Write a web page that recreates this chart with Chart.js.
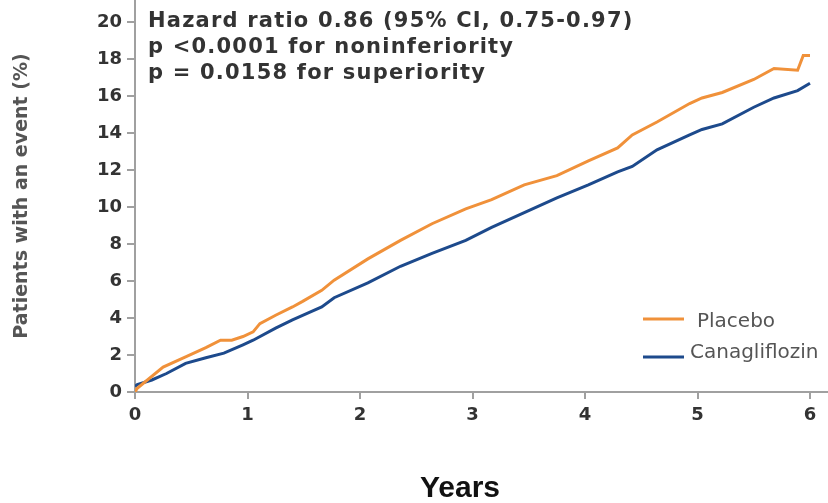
<!DOCTYPE html>
<html lang="en">
<head>
<meta charset="UTF-8">
<title>Patients with an event: Placebo vs Canagliflozin</title>
<style>
  body { margin: 0; background: #fff; }
  #wrap { width: 828px; height: 503px; }
</style>
<script src="https://cdn.jsdelivr.net/npm/chart.js"></script>
</head>
<body>
<div id="wrap"><canvas id="kmChart" width="828" height="503"></canvas></div>
<script>
// Cumulative incidence (%) by follow-up year
const placeboYears = [0, 0.02, 0.25, 0.45, 0.63, 0.76, 0.86, 0.96, 1.05, 1.11, 1.25, 1.40, 1.49, 1.66, 1.77,
  2.07, 2.36, 2.64, 2.94, 3.17, 3.46, 3.75, 4.03, 4.29, 4.42, 4.64, 4.93, 5.04, 5.22, 5.50, 5.68, 5.89, 5.94, 6.0];
const placeboPct = [0, 0.2, 1.35, 1.9, 2.4, 2.8, 2.8, 3.0, 3.25, 3.7, 4.15, 4.6, 4.9, 5.5, 6.05,
  7.2, 8.2, 9.1, 9.9, 10.4, 11.2, 11.7, 12.5, 13.2, 13.9, 14.6, 15.6, 15.9, 16.2, 16.9, 17.5, 17.4, 18.2, 18.2];

const canaYears = [0, 0.02, 0.15, 0.28, 0.45, 0.63, 0.79, 0.96, 1.05, 1.25, 1.40, 1.55, 1.66, 1.77,
  2.07, 2.36, 2.64, 2.94, 3.17, 3.46, 3.75, 4.03, 4.29, 4.42, 4.64, 4.93, 5.04, 5.22, 5.50, 5.68, 5.89, 6.0];
const canaPct = [0.3, 0.4, 0.65, 1.0, 1.55, 1.85, 2.1, 2.55, 2.8, 3.45, 3.9, 4.3, 4.6, 5.1,
  5.9, 6.8, 7.5, 8.2, 8.9, 9.7, 10.5, 11.2, 11.9, 12.2, 13.1, 13.9, 14.2, 14.5, 15.4, 15.9, 16.3, 16.7];

const xTicks = [0, 1, 2, 3, 4, 5, 6];
const yTicks = [0, 2, 4, 6, 8, 10, 12, 14, 16, 18, 20];

const statsLines = [
  'Hazard ratio 0.86 (95% CI, 0.75-0.97)',
  'p <0.0001 for noninferiority',
  'p = 0.0158 for superiority'
];
const xTitle = 'Years';

const toPoints = (xs, ys) => xs.map((x, i) => ({ x: x, y: ys[i] }));

const FONT = '"DejaVu Sans", Verdana, sans-serif';
const AXIS_GREY = '#a0a0a0';

// stats box (top left), legend (bottom right) and the x title
const overlay = {
  id: 'overlay',
  afterDraw(chart) {
    const ctx = chart.ctx;
    ctx.save();
    ctx.textBaseline = 'middle';
    ctx.textAlign = 'left';

    ctx.fillStyle = '#333';
    ctx.font = 'bold 21px ' + FONT;
    ctx.letterSpacing = '1.2px';
    statsLines.forEach((t, i) => ctx.fillText(t, 148, 22 + i * 26));
    ctx.letterSpacing = '0px';

    ctx.font = '20px ' + FONT;
    const rows = [{ y: 319, tx: 697 }, { y: 357, tx: 690 }];
    chart.data.datasets.forEach((ds, i) => {
      const r = rows[i];
      ctx.strokeStyle = ds.borderColor;
      ctx.lineWidth = 3;
      ctx.beginPath();
      ctx.moveTo(643, r.y);
      ctx.lineTo(684, r.y);
      ctx.stroke();
      ctx.fillStyle = '#555';
      ctx.fillText(ds.label, r.tx, r.y + (i === 0 ? 3 : -4));
    });

    ctx.fillStyle = '#111';
    ctx.textAlign = 'center';
    ctx.font = 'bold 30px "Liberation Sans", Arial, sans-serif';
    ctx.fillText(xTitle, 460, 489);
    ctx.restore();
  }
};

new Chart(document.getElementById('kmChart'), {
  type: 'line',
  data: {
    datasets: [
      {
        label: 'Placebo',
        data: toPoints(placeboYears, placeboPct),
        borderColor: '#f0913a',
        borderWidth: 3,
        pointRadius: 0,
        tension: 0
      },
      {
        label: 'Canagliflozin',
        data: toPoints(canaYears, canaPct),
        borderColor: '#1d4a8c',
        borderWidth: 3,
        pointRadius: 0,
        tension: 0
      }
    ]
  },
  options: {
    responsive: false,
    animation: false,
    layout: { padding: 0 },
    plugins: {
      legend: { display: false },
      tooltip: { enabled: false }
    },
    scales: {
      x: {
        type: 'linear',
        min: 0,
        max: 6.16,
        afterBuildTicks: s => { s.ticks = xTicks.map(v => ({ value: v })); },
        afterFit: s => { s.height = 111; s.paddingRight = 0; },
        border: { color: AXIS_GREY, width: 2 },
        grid: { drawOnChartArea: false, color: AXIS_GREY, tickLength: 7, lineWidth: 2 },
        ticks: { color: '#333', padding: 6, font: { family: FONT, size: 18, weight: 'bold' } }
      },
      y: {
        min: 0,
        max: 21.2,
        afterBuildTicks: s => { s.ticks = yTicks.map(v => ({ value: v })); },
        afterFit: s => { s.width = 135; s.paddingTop = 0; },
        border: { color: AXIS_GREY, width: 2 },
        grid: { drawOnChartArea: false, color: AXIS_GREY, tickLength: 8, lineWidth: 2 },
        ticks: { color: '#333', padding: 5, font: { family: FONT, size: 18, weight: 'bold' } },
        title: {
          display: true,
          text: 'Patients with an event (%)',
          color: '#555',
          padding: { top: 11, bottom: 0 },
          font: { family: FONT, size: 19, weight: 'bold' }
        }
      }
    }
  },
  plugins: [overlay]
});
</script>
</body>
</html>
